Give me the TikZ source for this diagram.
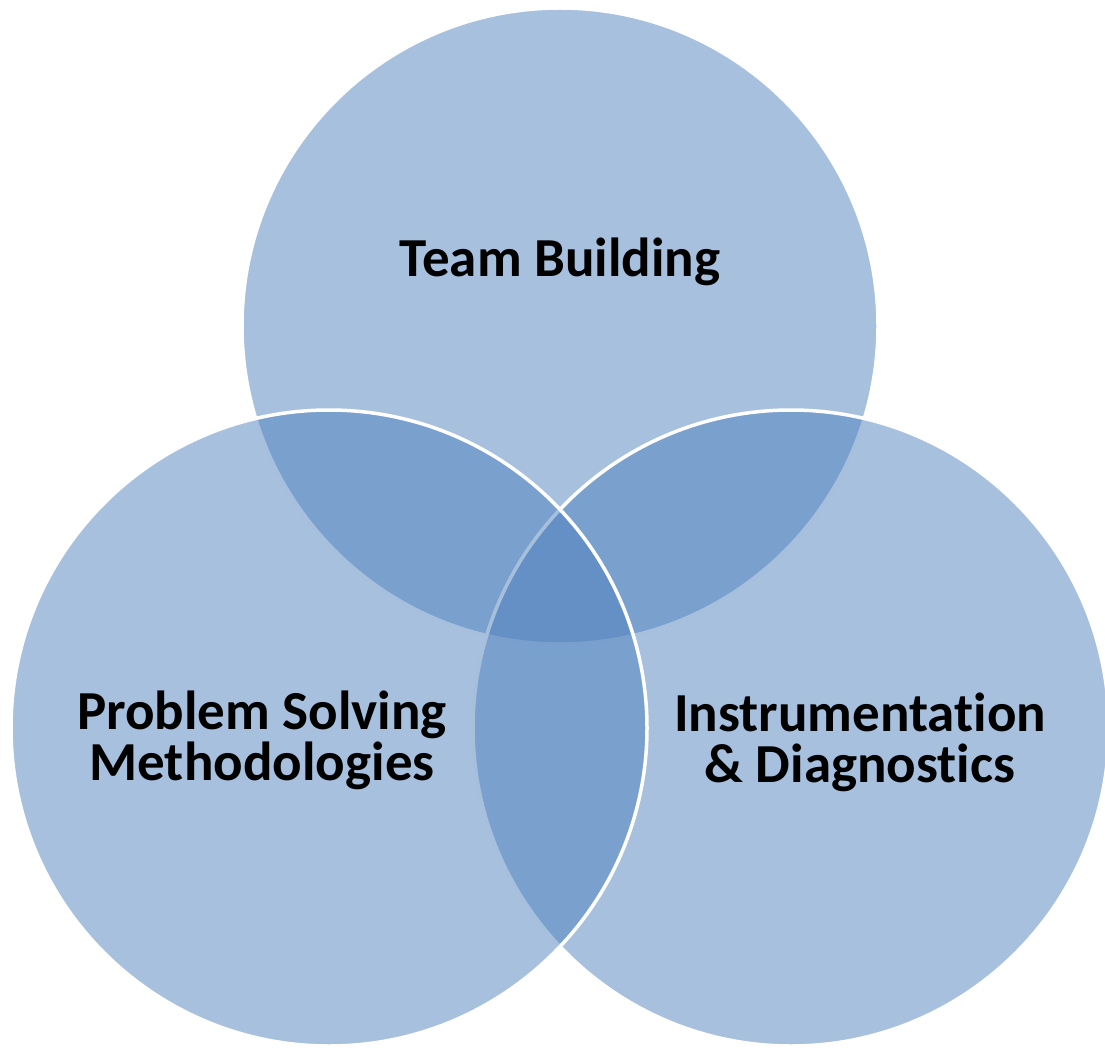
\documentclass[tikz,border=0pt]{standalone}
\usepackage{fontspec}
\setmainfont{Carlito}[Ligatures=NoCommon]
\usepackage{tikz}
\definecolor{vennblue}{HTML}{4F81BD}

\begin{document}
\begin{tikzpicture}[x=1pt,y=-1pt,
    vennset/.style={fill=vennblue,fill opacity=0.5,draw=white,draw opacity=1,line width=3.5pt},
    vennlabel/.style={font=\bfseries\fontsize{55}{51}\selectfont,align=center,text=black,anchor=base}]
  \clip
    (0,0)
    rectangle
    (1105,1048);
  \coordinate (team) at (560,326);
  \coordinate (problem) at (329,728);
  \coordinate (instr) at (791,728);
  % top set first, then right, then left
  \filldraw[vennset]
    (team)
    circle
    [radius=318];
  \filldraw[vennset]
    (instr)
    circle
    [radius=318];
  \filldraw[vennset]
    (problem)
    circle
    [radius=318];
  \node[vennlabel]
    (teamtext) at (560,277)
    {Team Building};
  \node[vennlabel]
    (problemtext) at (262,780)
    {Problem Solving\\Methodologies};
  % \kern0pt keeps t and i apart (no ti ligature)
  \node[vennlabel]
    (instrtext) at (860,782)
    {Instrumentat\kern0pt ion\\\& Diagnost\kern0pt ics};
\end{tikzpicture}
\end{document}
